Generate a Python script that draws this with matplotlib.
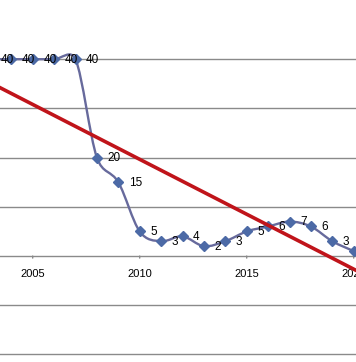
import matplotlib
matplotlib.use('Agg')
import matplotlib.pyplot as plt
from matplotlib.path import Path
from matplotlib.patches import PathPatch
import numpy as np

# data
years = [2003, 2004, 2005, 2006, 2007, 2008, 2009, 2010, 2011,
         2012, 2013, 2014, 2015, 2016, 2017, 2018, 2019, 2020]
values = [40, 40, 40, 40, 40, 20, 15, 5, 3, 4, 2, 3, 5, 6, 7, 6, 3, 1]
labels = ['40', '40', '40', '40', '40', '20', '15', '5', '3',
          '4', '2', '3', '5', '6', '7', '6', '3', '1']

# linear trend line
trend_years = [2002, 2021]
trend_values = [37.5, -4.9]

tick_years = [2005, 2010, 2015, 2020]
grid_values = [-20, -10, 10, 20, 30, 40]

color_line = '#676A9C'
color_marker = '#4C6AA6'
color_trend = '#C0141A'
color_grid = '#8A8A8A'

plt.rcParams['font.family'] = ['Liberation Sans', 'DejaVu Sans']

fig = plt.figure(figsize=(3.56, 3.62), dpi=100)
ax = fig.add_axes([0, 0, 1, 1])
ax.set_xlim(2003.472, 2020.107)
ax.set_ylim(-21.54, 52.03)
for s in ax.spines.values():
    s.set_visible(False)
ax.set_xticks([])
ax.set_yticks([])

# gridlines and category axis
for g in grid_values:
    ax.axhline(g, color=color_grid, lw=1.0, zorder=1)
ax.axhline(0, color=color_grid, lw=1.0, zorder=1)
for t in tick_years:
    ax.annotate('', xy=(t, 0), xytext=(0, -3.5), textcoords='offset points',
                arrowprops=dict(arrowstyle='-', color=color_grid, lw=1.0))
    ax.annotate(str(t), xy=(t, 0), xytext=(0, -9), textcoords='offset points',
                ha='center', va='top', fontsize=8, color='black')

# smoothed line (Excel style bezier), control arms worked out in pixels
pts = ax.transData.transform(np.column_stack([years, values]))
ext = np.vstack([pts[0], pts, pts[-1]])


def arm(vec, seg_len):
    n = np.hypot(*vec)
    lim = 0.55 * seg_len
    return vec * (lim / n) if n > lim else vec


verts = [pts[0]]
codes = [Path.MOVETO]
for i in range(len(pts) - 1):
    p0, p1, p2, p3 = ext[i], ext[i + 1], ext[i + 2], ext[i + 3]
    seg = np.hypot(*(p2 - p1))
    c1 = p1 + arm((p2 - p0) / 6.0, seg)
    c2 = p2 - arm((p3 - p1) / 6.0, seg)
    verts += [c1, c2, p2]
    codes += [Path.CURVE4] * 3
verts = ax.transData.inverted().transform(np.array(verts))
ax.add_patch(PathPatch(Path(verts, codes), fill=False, edgecolor=color_line,
                       lw=1.7, zorder=3))
ax.plot(years, values, ls='none', marker='D', ms=4.8, color=color_marker,
        zorder=4)

for xv, yv, lab in zip(years, values, labels):
    ax.annotate(lab, xy=(xv, yv), xytext=(7.6, -0.5), textcoords='offset points',
                ha='left', va='center', fontsize=8.5, color='black', zorder=5,
                annotation_clip=False)

# trend line
ax.plot(trend_years, trend_values, color=color_trend, lw=2.6, zorder=6,
        solid_capstyle='butt')

plt.savefig('out.png', dpi=100)
